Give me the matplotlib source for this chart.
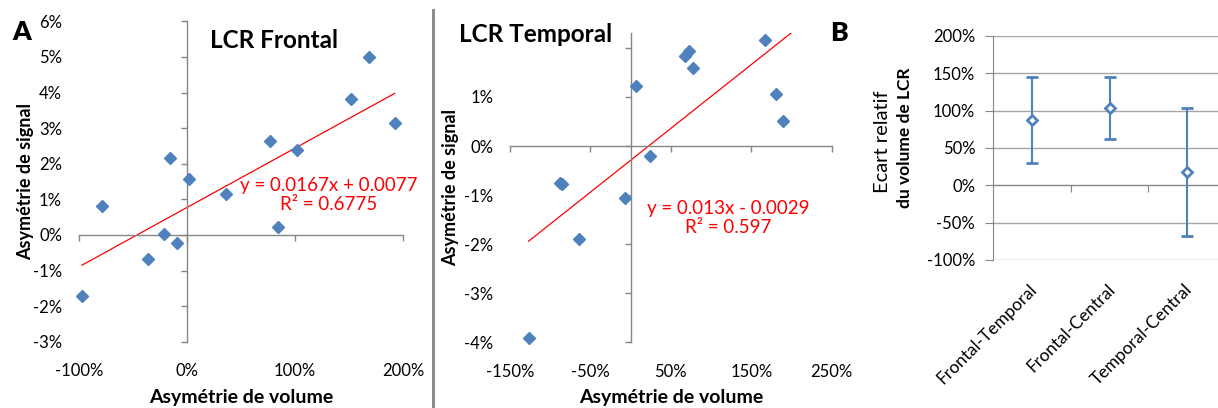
import matplotlib
matplotlib.use('Agg')
import matplotlib.pyplot as plt
import numpy as np
from matplotlib.ticker import FuncFormatter
from matplotlib.lines import Line2D
import matplotlib.transforms as mtransforms

plt.rcParams['font.family'] = ['Lato', 'DejaVu Sans']

# ---------------- data ----------------
frontal_vol = [-0.97, -0.787, -0.36, -0.21, -0.155, -0.093, 0.015, 0.364, 0.765, 0.845, 1.02, 1.518, 1.68, 1.92]
frontal_sig = [-0.0171, 0.0080, -0.0068, 0.0002, 0.0217, -0.0024, 0.0156, 0.0114, 0.0263, 0.0023, 0.0239, 0.0382, 0.0501, 0.0315]
frontal_slope, frontal_intercept = 0.0167, 0.0077
frontal_r2 = 0.6775
frontal_trend_range = [-0.97, 1.92]
frontal_xticks = [-1.0, 0.0, 1.0, 2.0]
frontal_yticks = [-0.03, -0.02, -0.01, 0.0, 0.01, 0.02, 0.03, 0.04, 0.05, 0.06]

temporal_vol = [-1.264, -0.88, -0.85, -0.638, -0.074, 0.067, 0.24, 0.677, 0.73, 0.78, 1.67, 1.81, 1.89]
temporal_sig = [-0.0391, -0.0076, -0.0077, -0.0189, -0.0105, 0.0122, -0.0020, 0.0184, 0.0193, 0.0160, 0.0217, 0.0106, 0.0051]
temporal_slope, temporal_intercept = 0.013, -0.0029
temporal_r2 = 0.597
temporal_trend_range = [-1.27, 2.1]
temporal_xticks = [-1.5, -0.5, 0.5, 1.5, 2.5]
temporal_ytick_marks = [-0.04, -0.03, -0.02, -0.01, 0.0, 0.01, 0.02]
temporal_ytick_labels = [-0.04, -0.03, -0.02, -0.01, 0.0, 0.01]

b_categories = ['Frontal-Temporal', 'Frontal-Central', 'Temporal-Central']
b_means = [0.875, 1.035, 0.175]
b_errors = [0.575, 0.41, 0.86]
b_yticks = [-1.0, -0.5, 0.0, 0.5, 1.0, 1.5, 2.0]

# ---------------- style ----------------
BLUE = '#4F81BD'
RED = '#FF0000'
GRAY = '#868686'
GRID = '#A6A6A6'
TICK_FS = 12

W, H = 1218, 408
fig = plt.figure(figsize=(W / 100, H / 100), dpi=100)


def px_rect(l, t, r, b):
    return [l / W, 1 - b / H, (r - l) / W, (b - t) / H]


pct = FuncFormatter(lambda v, p: f"{v*100:.0f}%")


def scatter_panel(rect, xlim, ylim, xs, ys, xt_marks, yt_marks, xt_labels, yt_labels,
                  slope, intercept, trange, xpad, ypad):
    ax = fig.add_axes(rect)
    ax.set_xlim(*xlim)
    ax.set_ylim(*ylim)
    ax.patch.set_visible(False)
    for s in ['top', 'right']:
        ax.spines[s].set_visible(False)
    for s in ['left', 'bottom']:
        ax.spines[s].set_position(('data', 0))
        ax.spines[s].set_color(GRAY)
        ax.spines[s].set_linewidth(1.0)
    ax.set_xticks(xt_marks)
    ax.set_yticks(yt_marks)
    ax.tick_params(direction='out', length=4, width=1, color=GRAY,
                   labelleft=False, labelbottom=False)
    # labels overlay
    lab = fig.add_axes(rect)
    lab.set_xlim(*xlim)
    lab.set_ylim(*ylim)
    lab.patch.set_visible(False)
    lab.set_frame_on(False)
    lab.set_xticks(xt_labels)
    lab.set_yticks(yt_labels)
    lab.xaxis.set_major_formatter(pct)
    lab.yaxis.set_major_formatter(pct)
    lab.tick_params(axis='x', length=0, pad=xpad, labelsize=TICK_FS)
    lab.tick_params(axis='y', length=0, pad=ypad, labelsize=TICK_FS)
    # data
    ax.plot(xs, ys, linestyle='none', marker='D', ms=6.6, color=BLUE, mec=BLUE,
            zorder=3, clip_on=False)
    tx = np.array(trange)
    ax.plot(tx, slope * tx + intercept, color=RED, lw=0.9, zorder=2)
    return ax


axF = scatter_panel(px_rect(78.7, 21.4, 403.3, 341.7), (-1, 2), (-0.03, 0.06),
                    frontal_vol, frontal_sig, frontal_xticks, frontal_yticks,
                    frontal_xticks, frontal_yticks,
                    frontal_slope, frontal_intercept, frontal_trend_range, 15, 12)

axT = scatter_panel(px_rect(510, 33.2, 831.7, 342.3), (-1.5, 2.5), (-0.04, 0.023),
                    temporal_vol, temporal_sig, temporal_xticks, temporal_ytick_marks,
                    temporal_xticks, temporal_ytick_labels,
                    temporal_slope, temporal_intercept, temporal_trend_range, 15.5, 12)

# equations
fig.text(328.5 / W, 1 - 195 / H,
         f"y = {frontal_slope}x + {frontal_intercept}\nR² = {frontal_r2}",
         color=RED, fontsize=13.5, ha='center', va='center', multialignment='center',
         linespacing=1.1)
fig.text(728 / W, 1 - 218 / H,
         f"y = {temporal_slope}x - {abs(temporal_intercept)}\nR² = {temporal_r2}",
         color=RED, fontsize=13.5, ha='center', va='center', multialignment='center',
         linespacing=1.1)

# titles and labels
fig.text(274.5 / W, 1 - 40 / H, 'LCR Frontal', fontsize=17.5, fontweight='bold',
         ha='center', va='center')
fig.text(536 / W, 1 - 34 / H, 'LCR Temporal', fontsize=17.5, fontweight='bold',
         ha='center', va='center')
fig.text(22 / W, 1 - 32 / H, 'A', fontsize=19, fontweight='heavy', ha='center', va='center')
fig.text(839 / W, 1 - 33 / H, 'B', fontsize=19, fontweight='heavy', ha='center', va='center')

fig.text(26 / W, 1 - 181 / H, 'Asymétrie de signal', rotation=90, fontsize=13,
         fontweight='bold', ha='center', va='center')
fig.text(451 / W, 1 - 188 / H, 'Asymétrie de signal', rotation=90, fontsize=13,
         fontweight='bold', ha='center', va='center')
fig.text(241 / W, 1 - 397 / H, 'Asymétrie de volume', fontsize=14,
         fontweight='bold', ha='center', va='center')
fig.text(671 / W, 1 - 398 / H, 'Asymétrie de volume', fontsize=14,
         fontweight='bold', ha='center', va='center')

# separator
fig.add_artist(Line2D([433 / W, 433 / W], [0, 1 - 10 / H], color='#8C8C8C', lw=2.2))

# ---------------- panel B ----------------
axB = fig.add_axes(px_rect(993.3, 36, 1225.8, 260))
xpos = np.arange(len(b_categories))
axB.set_xlim(-0.5, len(b_categories) - 0.5)
axB.set_ylim(-1.0, 2.0)
axB.patch.set_visible(False)
axB.set_yticks(b_yticks)
axB.yaxis.set_major_formatter(pct)
axB.yaxis.grid(True, color=GRID, lw=1)
axB.set_axisbelow(True)
for s in ['top', 'right']:
    axB.spines[s].set_visible(False)
axB.spines['left'].set_color(GRAY)
axB.spines['bottom'].set_position(('data', 0))
axB.spines['bottom'].set_color(GRAY)
axB.set_xticks(xpos[:-1] + 0.5)
axB.tick_params(axis='x', direction='out', length=5, color=GRAY, labelbottom=False)
axB.tick_params(axis='y', direction='out', length=6, color=GRAY, pad=7, labelsize=TICK_FS)
axB.errorbar(xpos, b_means, yerr=b_errors, fmt='D', mfc='white', mec=BLUE, mew=2,
             ms=5.5, ecolor=BLUE, elinewidth=1.5, capsize=4, capthick=1.5, zorder=3)
off = mtransforms.offset_copy(axB.transData, fig=fig, x=-3, y=-21, units='dots')
for i, c in enumerate(b_categories):
    axB.text(i, -1.0, c, transform=off, rotation=45, rotation_mode='anchor',
             ha='right', va='top', fontsize=12.5)

fig.text(883 / W, 1 - 142 / H, 'Ecart relatif', rotation=90, fontsize=14.5,
         ha='center', va='center')
fig.text(905 / W, 1 - 138 / H, 'du volume de LCR', rotation=90, fontsize=12.5,
         fontweight='bold', ha='center', va='center')

fig.savefig('out.png', dpi=100)
